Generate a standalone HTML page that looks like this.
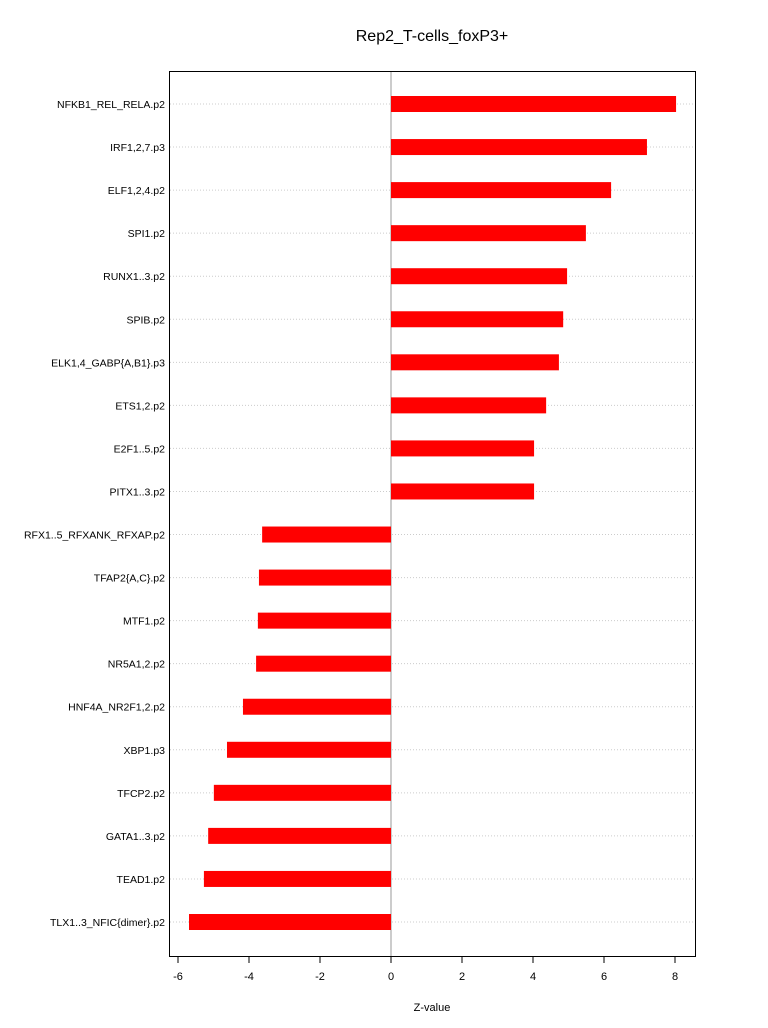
<!DOCTYPE html>
<html><head><meta charset="utf-8"><style>
body{margin:0;background:#fff;}
svg{display:block;font-family:"Liberation Sans",Arial,sans-serif;}
</style></head><body>
<svg id="chart" width="768" height="1028" xmlns="http://www.w3.org/2000/svg">
<text x="432" y="41" text-anchor="middle" font-size="16">Rep2_T-cells_foxP3+</text>
<text x="432" y="1011" text-anchor="middle" font-size="11">Z-value</text>
<g id="grid"></g><g id="bars"></g><g id="labels"></g><g id="ticks"></g>
<rect x="169.5" y="71.5" width="526" height="885" fill="none" stroke="#000" stroke-width="1"/>
</svg>
<script>
const categories=["NFKB1_REL_RELA.p2","IRF1,2,7.p3","ELF1,2,4.p2","SPI1.p2","RUNX1..3.p2","SPIB.p2","ELK1,4_GABP{A,B1}.p3","ETS1,2.p2","E2F1..5.p2","PITX1..3.p2","RFX1..5_RFXANK_RFXAP.p2","TFAP2{A,C}.p2","MTF1.p2","NR5A1,2.p2","HNF4A_NR2F1,2.p2","XBP1.p3","TFCP2.p2","GATA1..3.p2","TEAD1.p2","TLX1..3_NFIC{dimer}.p2"];
const values=[8.03,7.21,6.2,5.49,4.96,4.85,4.73,4.37,4.03,4.03,-3.63,-3.72,-3.75,-3.8,-4.17,-4.62,-4.99,-5.15,-5.27,-5.69];
const tickValues=[-6,-4,-2,0,2,4,6,8];
const NS="http://www.w3.org/2000/svg";
const x=v=>391+v*35.5;
const y=i=>104+i*(922-104)/(categories.length-1);
function mk(tag,attrs,parent){const e=document.createElementNS(NS,tag);for(const k in attrs)e.setAttribute(k,attrs[k]);document.getElementById(parent).appendChild(e);return e;}
categories.forEach((c,i)=>{
  const g=mk("line",{x1:170,x2:695,y1:y(i),y2:y(i),stroke:"#ccc","stroke-dasharray":"1,2"},"grid");
  
  
  const v=values[i];
  const r=mk("rect",{x:Math.min(x(0),x(v)),y:y(i)-8,width:Math.abs(x(v)-x(0)),height:16,fill:"#ff0000"},"bars");
  
  
  const t=mk("text",{x:165,y:y(i)+4,"text-anchor":"end","font-size":"10.5"},"labels");
  t.textContent=c;
  
  
});
const z=mk("line",{x1:x(0),x2:x(0),y1:72,y2:956,stroke:"#999","stroke-width":1},"grid");


const ax=mk("line",{x1:x(-6),x2:x(8),y1:956.5,y2:956.5,stroke:"#000"},"ticks");


tickValues.forEach(v=>{
  const l=mk("line",{x1:x(v),x2:x(v),y1:956,y2:963,stroke:"#000"},"ticks");
  
  
  const t=mk("text",{x:x(v),y:980,"text-anchor":"middle","font-size":"11"},"ticks");
  t.textContent=v;
  
  
});
</script>
</body></html>
